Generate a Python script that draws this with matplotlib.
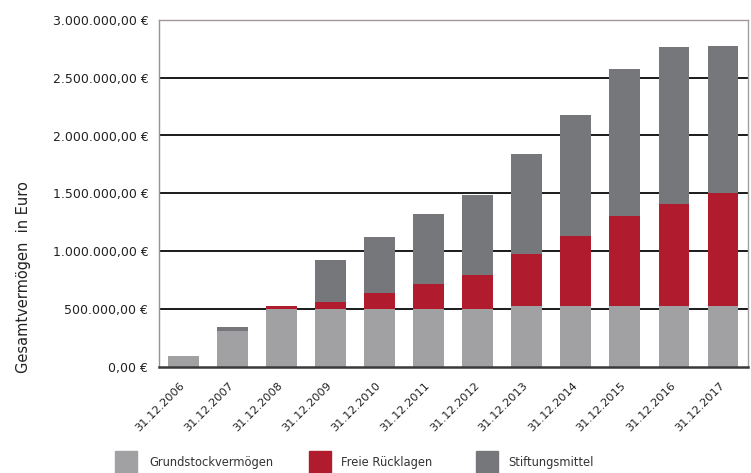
import matplotlib
matplotlib.use("Agg")
import matplotlib.pyplot as plt
from matplotlib.patches import Rectangle
from matplotlib.ticker import FuncFormatter
import numpy as np

categories = ["31.12.2006", "31.12.2007", "31.12.2008", "31.12.2009", "31.12.2010",
              "31.12.2011", "31.12.2012", "31.12.2013", "31.12.2014", "31.12.2015",
              "31.12.2016", "31.12.2017"]
grundstock = [87000, 310000, 500000, 500000, 500000, 500000, 500000,
              525000, 525000, 525000, 525000, 525000]
freie_ruecklagen = [0, 0, 23000, 60000, 136000, 212000, 292000,
                    446000, 607000, 778000, 879000, 975000]
stiftungsmittel = [0, 30000, 0, 360000, 483000, 606000, 695000,
                   869000, 1045000, 1270000, 1363000, 1277000]
series_labels = ["Grundstockvermögen", "Freie Rücklagen", "Stiftungsmittel"]
y_ticks = [0, 500000, 1000000, 1500000, 2000000, 2500000, 3000000]
y_label = "Gesamtvermögen  in Euro"

colors = ["#a1a1a3", "#b01b2e", "#76777a"]
W, H = 751, 473
fig = plt.figure(figsize=(W / 100, H / 100), dpi=100)
plt.rcParams['font.family'] = ['DejaVu Sans']

ax = fig.add_axes([158.7 / W, 1 - 366.5 / H, (748 - 158.7) / W, (366.5 - 20) / H])
x = np.arange(len(categories))
g = np.array(grundstock)
r = np.array(freie_ruecklagen)
s = np.array(stiftungsmittel)
bw = 0.63
ax.bar(x, g, bw, color=colors[0], zorder=3)
ax.bar(x, r, bw, bottom=g, color=colors[1], zorder=3)
ax.bar(x, s, bw, bottom=g + r, color=colors[2], zorder=3)

ax.set_xlim(-0.51, len(categories) - 0.49)
ax.set_ylim(0, 3000000)
ax.set_yticks(y_ticks)
ax.yaxis.set_major_formatter(FuncFormatter(
    lambda v, p: f"{v:,.2f}".replace(",", "X").replace(".", ",").replace("X", ".") + " €"))
ax.tick_params(axis='y', length=0, pad=7.5, labelsize=9, labelcolor="#222222")
ax.tick_params(axis='x', length=0, pad=4, labelsize=8.2, labelcolor="#222222")
ax.set_xticks(x)
ax.set_xticklabels(categories, rotation=45, ha='right', va='top', rotation_mode='anchor')
for lbl in ax.get_xticklabels():
    lbl.set_transform(lbl.get_transform() + matplotlib.transforms.ScaledTranslation(-4 / 100, -8 / 100, fig.dpi_scale_trans))

for t in y_ticks[1:-1]:
    ax.axhline(t, color="#1a1a1a", lw=1.4, zorder=1)

ax.spines['left'].set_color("#9c9090")
ax.spines['left'].set_linewidth(1.0)
ax.spines['top'].set_color("#a09898")
ax.spines['top'].set_linewidth(1.0)
ax.spines['right'].set_color("#a0a0a0")
ax.spines['right'].set_linewidth(1.0)
ax.spines['bottom'].set_color("#3a3a3a")
ax.spines['bottom'].set_linewidth(1.8)
ax.spines['bottom'].set_zorder(4)

fig.text(24 / W, 1 - 277 / H, y_label, rotation=90, ha='center', va='center',
         fontsize=10.5, color="#222222")

sq_x = [115, 309, 476]
tx_x = [149, 341, 508]
for i in range(3):
    fig.patches.append(Rectangle((sq_x[i] / W, 0), 22 / W, 22 / H,
                                 transform=fig.transFigure, color=colors[i], figure=fig))
    fig.text(tx_x[i] / W, 1 - 462 / H, series_labels[i], ha='left', va='center',
             fontsize=8.3, color="#333333")

fig.savefig("out.png", dpi=100)
